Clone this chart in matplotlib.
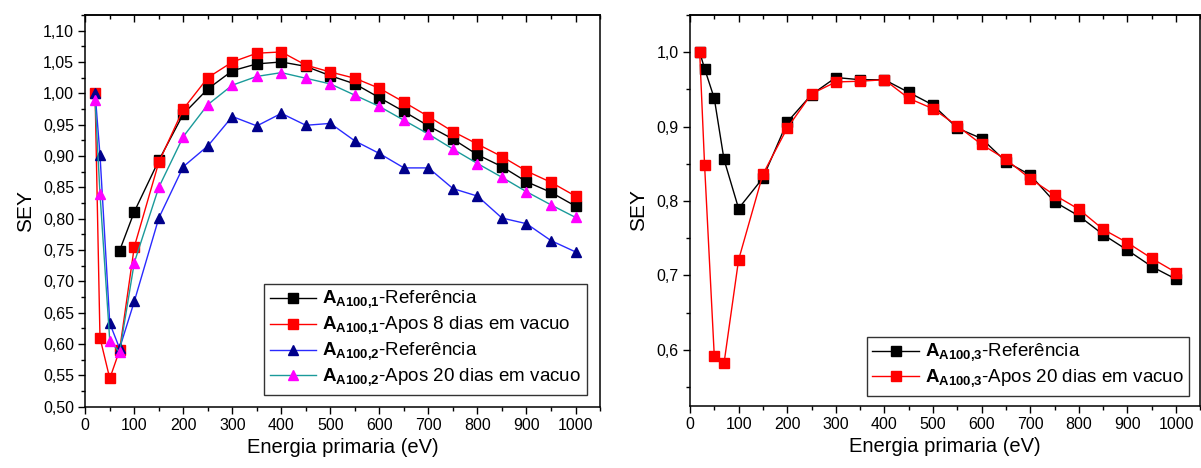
import numpy as np
import matplotlib
matplotlib.use("Agg")
import matplotlib.pyplot as plt
from matplotlib.ticker import MultipleLocator, FuncFormatter

plt.rcParams['font.family'] = ['Liberation Sans', 'DejaVu Sans']
plt.rcParams['mathtext.fontset'] = 'custom'
plt.rcParams['mathtext.rm'] = 'Liberation Sans'
plt.rcParams['mathtext.bf'] = 'Liberation Sans:bold'

# Primary electron energies (eV)
energia = [20, 30, 50, 70, 100, 150, 200, 250, 300, 350, 400, 450, 500,
           550, 600, 650, 700, 750, 800, 850, 900, 950, 1000]
energia_a1_ref = energia[3:]

# Sample A100,1 - reference
sey_a1_ref = [0.749, 0.811, 0.893, 0.967, 1.007, 1.036, 1.047, 1.050, 1.043,
              1.028, 1.015, 0.993, 0.971, 0.948, 0.927, 0.902, 0.883, 0.859,
              0.842, 0.820]
# Sample A100,1 - after 8 days in vacuum
sey_a1_8d = [1.000, 0.610, 0.545, 0.590, 0.755, 0.890, 0.975, 1.025, 1.050,
             1.064, 1.066, 1.045, 1.034, 1.024, 1.008, 0.986, 0.963, 0.939,
             0.919, 0.899, 0.876, 0.858, 0.836]
# Sample A100,2 - reference
sey_a2_ref = [1.001, 0.902, 0.633, 0.593, 0.668, 0.801, 0.883, 0.916, 0.963,
              0.948, 0.968, 0.949, 0.952, 0.924, 0.904, 0.881, 0.881, 0.848,
              0.836, 0.801, 0.792, 0.765, 0.747]
# Sample A100,2 - after 20 days in vacuum
sey_a2_20d = [0.989, 0.840, 0.605, 0.587, 0.730, 0.850, 0.931, 0.982, 1.013,
              1.027, 1.033, 1.024, 1.015, 0.997, 0.979, 0.957, 0.935, 0.911,
              0.888, 0.866, 0.843, 0.822, 0.802]
# Sample A100,3 - reference
sey_a3_ref = [1.000, 0.978, 0.938, 0.856, 0.790, 0.831, 0.906, 0.943, 0.966,
              0.963, 0.963, 0.946, 0.929, 0.898, 0.884, 0.853, 0.835, 0.799,
              0.780, 0.755, 0.734, 0.712, 0.695]
# Sample A100,3 - after 20 days in vacuum
sey_a3_20d = [1.000, 0.849, 0.592, 0.582, 0.721, 0.836, 0.898, 0.944, 0.960,
              0.961, 0.963, 0.938, 0.924, 0.901, 0.876, 0.856, 0.830, 0.808,
              0.789, 0.762, 0.744, 0.723, 0.704]

lbl_ref1 = r'$\mathbf{A}_{\mathbf{A100{,}1}}$-Referência'
lbl_8d1 = r'$\mathbf{A}_{\mathbf{A100{,}1}}$-Apos 8 dias em vacuo'
lbl_ref2 = r'$\mathbf{A}_{\mathbf{A100{,}2}}$-Referência'
lbl_20d2 = r'$\mathbf{A}_{\mathbf{A100{,}2}}$-Apos 20 dias em vacuo'
lbl_ref3 = r'$\mathbf{A}_{\mathbf{A100{,}3}}$-Referência'
lbl_20d3 = r'$\mathbf{A}_{\mathbf{A100{,}3}}$-Apos 20 dias em vacuo'

fig = plt.figure(figsize=(12.01, 4.68), dpi=100)
ax1 = fig.add_axes([0.0710, 0.131, 0.4286, 0.837])
ax2 = fig.add_axes([0.5745, 0.133, 0.4250, 0.835])


def style_axes(ax):
    for sp in ax.spines.values():
        sp.set_linewidth(1.1)
    ax.tick_params(axis='both', which='major', direction='out', length=5,
                   width=1.0, labelsize=11.5, pad=3)
    ax.tick_params(axis='both', which='minor', direction='out', length=3,
                   width=1.0)
    ax.xaxis.set_major_locator(MultipleLocator(100))
    ax.xaxis.set_minor_locator(MultipleLocator(50))
    ax.set_xlim(0, 1050)
    ax.set_xlabel('Energia primaria (eV)', fontsize=14.5, labelpad=4)
    ax.set_ylabel('SEY', fontsize=15, labelpad=6)


ms_sq = 6.5
ms_tr = 7.5
lw = 1.0
leg_kw = dict(loc='lower right', borderaxespad=0, fontsize=13.5,
              handlelength=2.5, handletextpad=0.3, labelspacing=0.2,
              borderpad=0.3, fancybox=False, edgecolor='#333333',
              framealpha=1)

# Left panel
ax1.plot(energia_a1_ref, sey_a1_ref, color='black', lw=lw, marker='s',
         ms=ms_sq, mfc='black', mec='black', label=lbl_ref1)
ax1.plot(energia, sey_a1_8d, color='red', lw=lw, marker='s',
         ms=ms_sq, mfc='red', mec='red', label=lbl_8d1)
ax1.plot(energia, sey_a2_ref, color='#2a2aff', lw=lw, marker='^',
         ms=ms_tr, mfc='#00008b', mec='#00008b', label=lbl_ref2)
ax1.plot(energia, sey_a2_20d, color='#1a9a9a', lw=lw, marker='^',
         ms=ms_tr, mfc='#ff00ff', mec='#ff00ff', label=lbl_20d2)
style_axes(ax1)
ax1.set_ylim(0.50, 1.125)
ax1.yaxis.set_major_locator(MultipleLocator(0.05))
ax1.yaxis.set_minor_locator(MultipleLocator(0.025))
ax1.yaxis.set_major_formatter(FuncFormatter(lambda v, p: f"{v:.2f}".replace('.', ',')))
leg1 = ax1.legend(bbox_to_anchor=(0.974, 0.030), **leg_kw)
leg1.get_frame().set_linewidth(1.0)

# Right panel
ax2.plot(energia, sey_a3_ref, color='black', lw=lw, marker='s',
         ms=ms_sq, mfc='black', mec='black', label=lbl_ref3)
ax2.plot(energia, sey_a3_20d, color='red', lw=lw, marker='s',
         ms=ms_sq, mfc='red', mec='red', label=lbl_20d3)
style_axes(ax2)
ax2.set_ylim(0.525, 1.05)
ax2.yaxis.set_major_locator(MultipleLocator(0.1))
ax2.yaxis.set_minor_locator(MultipleLocator(0.05))
ax2.yaxis.set_major_formatter(FuncFormatter(lambda v, p: f"{v:.1f}".replace('.', ',')))
leg2 = ax2.legend(bbox_to_anchor=(0.9785, 0.025), **leg_kw)
leg2.get_frame().set_linewidth(1.0)

for ax in (ax1, ax2):
    # mirrored ticks along the top edge, drawn inward and without labels
    sec = ax.secondary_xaxis('top')
    sec.xaxis.set_major_locator(MultipleLocator(100))
    sec.xaxis.set_minor_locator(MultipleLocator(50))
    sec.tick_params(which='major', direction='in', length=5, width=1.0, labeltop=False)
    sec.tick_params(which='minor', direction='in', length=3, width=1.0)
    sec.spines['top'].set_linewidth(1.1)
    ax.tick_params(axis='x', which='both', top=False)

fig.savefig('out.png', dpi=100)
